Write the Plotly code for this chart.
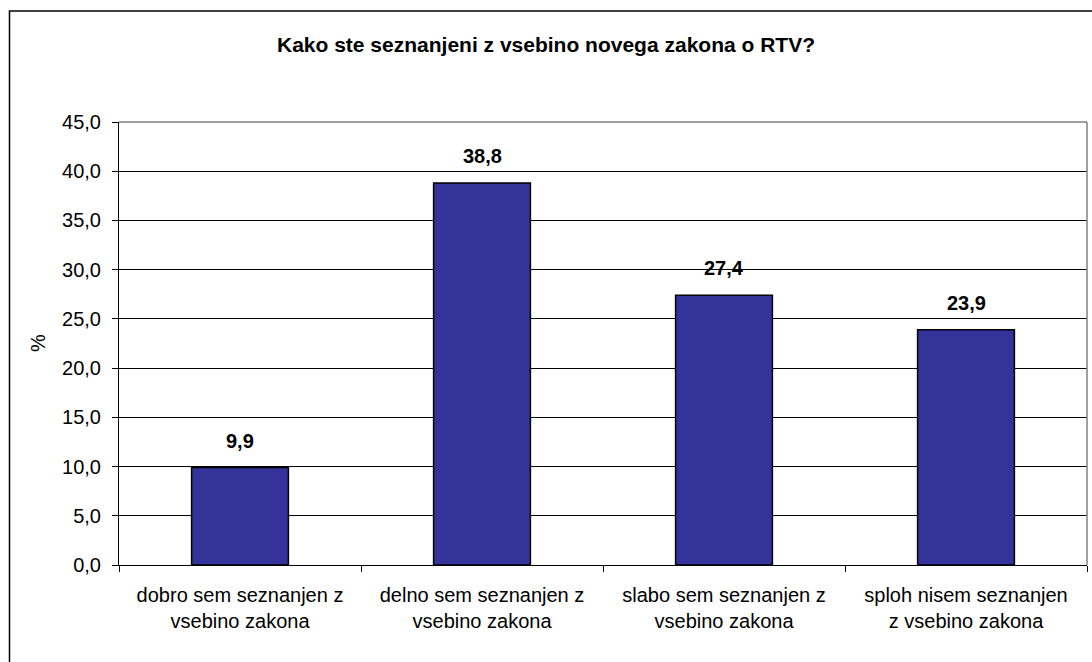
import plotly.graph_objects as go

# data
categories = [
    "dobro sem seznanjen z<br>vsebino zakona",
    "delno sem seznanjen z<br>vsebino zakona",
    "slabo sem seznanjen z<br>vsebino zakona",
    "sploh nisem seznanjen<br>z vsebino zakona",
]
values = [9.9, 38.8, 27.4, 23.9]
title_text = "Kako ste seznanjeni z vsebino novega zakona o RTV?"
y_ticks = [0, 5, 10, 15, 20, 25, 30, 35, 40, 45]

font_family = "Arial, Liberation Sans, sans-serif"

fig = go.Figure()
fig.add_trace(
    go.Bar(
        x=categories,
        y=values,
        marker=dict(color="#333399", line=dict(color="black", width=1.5)),
        width=0.4,
        hoverinfo="x+y",
    )
)

# bold value labels above the bars
for cat, val in zip(categories, values):
    fig.add_annotation(
        x=cat, y=val, xref="x", yref="y",
        text="<b>" + f"{val:.1f}".replace(".", ",") + "</b>",
        showarrow=False, yanchor="middle", yshift=27,
        font=dict(size=20, color="black"),
    )

# y-axis title, rotated
fig.add_annotation(
    x=(38 - 119) / 968, y=(565 - 343) / 443, xref="paper", yref="paper",
    text="%", textangle=-90, showarrow=False,
    xanchor="center", yanchor="middle",
    font=dict(size=20, color="black"),
)

fig.update_layout(
    width=1092,
    height=662,
    margin=dict(l=119, r=5, t=122, b=97, autoexpand=False),
    paper_bgcolor="white",
    plot_bgcolor="white",
    separators=",.",
    showlegend=False,
    font=dict(family=font_family, size=20, color="black"),
    title=dict(
        text="<b>" + title_text + "</b>",
        x=0.5,
        xanchor="center",
        y=1 - 45 / 662,
        yanchor="middle",
        font=dict(size=21, color="black"),
    ),
)

fig.update_xaxes(
    showline=True,
    linecolor="black",
    linewidth=1,
    ticks="outside",
    tickson="boundaries",
    ticklen=6,
    tickcolor="black",
    showgrid=False,
    tickfont=dict(size=20),
    ticklabelstandoff=12,
    automargin=False,
)
fig.update_yaxes(
    range=[0, 45],
    tickvals=y_ticks,
    tickformat=".1f",
    showline=True,
    linecolor="black",
    linewidth=1,
    ticks="outside",
    ticklen=6,
    tickcolor="black",
    showgrid=True,
    gridcolor="black",
    gridwidth=1,
    zeroline=False,
    tickfont=dict(size=20),
    ticklabelstandoff=7,
    automargin=False,
)

# grey plot-area border on top and right
fig.add_shape(type="line", xref="paper", yref="paper", x0=0, x1=1, y0=1, y1=1,
              line=dict(color="#808080", width=1.5), layer="above")
fig.add_shape(type="line", xref="paper", yref="paper", x0=1, x1=1, y0=0, y1=1,
              line=dict(color="#808080", width=1.5), layer="above")

# outer chart border (right and bottom edges fall outside the picture)
fig.add_shape(type="rect", xref="paper", yref="paper",
              x0=(9.5 - 119) / 968, x1=1.2, y0=-0.5, y1=(565 - 11) / 443,
              line=dict(color="black", width=1.5), fillcolor="rgba(0,0,0,0)")

fig.write_html("out.html", config={"displayModeBar": False},
               post_script="document.body.style.margin='0';")
